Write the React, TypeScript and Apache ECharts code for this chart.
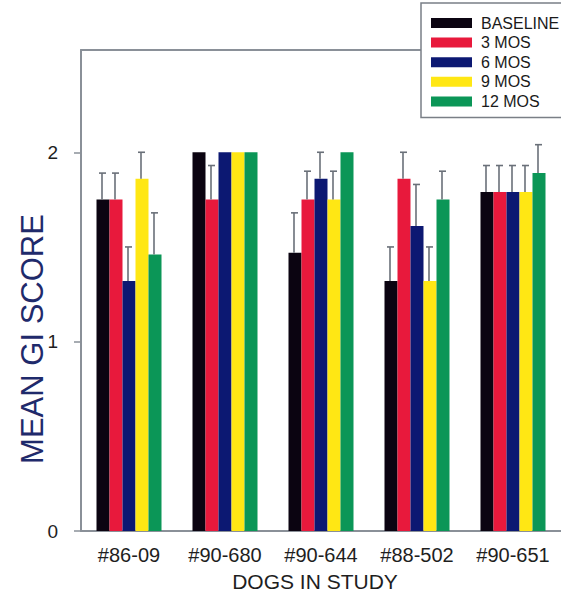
import React, { useEffect, useRef } from "react";
import * as echarts from "echarts";

const categories = ["#86-09", "#90-680", "#90-644", "#88-502", "#90-651"];
const seriesNames = ["BASELINE", "3 MOS", "6 MOS", "9 MOS", "12 MOS"];
const seriesColors = ["#0b0411", "#e8193c", "#0c1872", "#ffe714", "#0b9657"];

const baseline = [1.75, 2.0, 1.47, 1.32, 1.79];
const mos3 = [1.75, 1.75, 1.75, 1.86, 1.79];
const mos6 = [1.32, 2.0, 1.86, 1.61, 1.79];
const mos9 = [1.86, 2.0, 1.75, 1.32, 1.79];
const mos12 = [1.46, 2.0, 2.0, 1.75, 1.89];

// upper end of the error bars (null = no error bar drawn)
const baselineErr = [1.89, null, 1.68, 1.5, 1.93];
const mos3Err = [1.89, 1.93, 1.9, 2.0, 1.93];
const mos6Err = [1.5, null, 2.0, 1.83, 1.93];
const mos9Err = [2.0, null, 1.9, 1.5, 1.93];
const mos12Err = [1.68, null, null, 1.9, 2.04];

const yTicks = [0, 1, 2];

const FONT = "'Liberation Sans', Arial, Helvetica, sans-serif";
const BAR_W = 13;
const AXIS_COLOR = "#8a9098";
const ERR_COLOR = "#6a7079";

export default function App() {
  const ref = useRef<HTMLDivElement>(null);

  useEffect(() => {
    if (!ref.current) return;
    const chart = echarts.init(ref.current, null, { renderer: "svg" });
    const values = [baseline, mos3, mos6, mos9, mos12];
    const errs = [baselineErr, mos3Err, mos6Err, mos9Err, mos12Err];

    const barSeries = values.map((vals, i) => ({
      name: seriesNames[i],
      type: "bar",
      data: vals,
      barWidth: BAR_W,
      barGap: "0%",
      itemStyle: { color: seriesColors[i] },
      z: 2,
    }));

    const errSeries = errs.map((ups, i) => ({
      type: "custom",
      z: 3,
      silent: true,
      data: ups.map((u, k) => [k, values[i][k], u == null ? values[i][k] : u]),
      renderItem: (params: any, api: any) => {
        const cat = api.value(0);
        const v = api.value(1);
        const u = api.value(2);
        if (!(u > v)) return null;
        const base = api.coord([cat, v]);
        const top = api.coord([cat, u]);
        const x = base[0] + (i - 2) * BAR_W - 1;
        const st = { stroke: ERR_COLOR, lineWidth: 1.6 };
        return {
          type: "group",
          children: [
            { type: "line", shape: { x1: x, y1: base[1], x2: x, y2: top[1] }, style: st },
            { type: "line", shape: { x1: x - 3, y1: top[1], x2: x + 4, y2: top[1] }, style: st },
          ],
        };
      },
    }));

    chart.setOption({
      animation: false,
      backgroundColor: "#ffffff",
      textStyle: { fontFamily: FONT },
      grid: { left: 81, top: 50, width: 481, bottom: 64, containLabel: false },
      legend: {
        left: 421,
        top: 3,
        orient: "vertical",
        itemWidth: 41,
        itemHeight: 10,
        itemGap: 3.6,
        padding: [12, 10, 8, 10],
        backgroundColor: "#ffffff",
        borderColor: "#7a7f86",
        borderWidth: 1.5,
        icon: "rect",
        selectedMode: false,
        data: seriesNames,
        textStyle: {
          fontFamily: FONT,
          fontSize: 16,
          color: "#1a1a1a",
          lineHeight: 16,
          padding: [0, 0, 0, 4],
        },
      },
      xAxis: [
        {
          type: "category",
          data: categories,
          position: "bottom",
          axisLine: { lineStyle: { color: AXIS_COLOR, width: 2 } },
          axisTick: { alignWithLabel: true, interval: 0, length: 12, lineStyle: { color: AXIS_COLOR, width: 1.5 } },
          axisLabel: { interval: 0, hideOverlap: false, fontFamily: FONT, fontSize: 20, color: "#1e1e1e", margin: 14 },
          name: "DOGS IN STUDY",
          nameLocation: "middle",
          nameGap: 40,
          nameTextStyle: { fontFamily: FONT, fontSize: 21, color: "#1e1e1e", padding: [0, 12, 0, 0] },
          splitLine: { show: false },
        },
        {
          type: "category",
          data: categories,
          position: "top",
          axisLine: { lineStyle: { color: AXIS_COLOR, width: 2 } },
          axisTick: { show: false },
          axisLabel: { show: false },
          splitLine: { show: false },
        },
      ],
      yAxis: {
        type: "value",
        min: 0,
        max: 2.54,
        interval: 1,
        axisLine: { show: true, lineStyle: { color: AXIS_COLOR, width: 2 } },
        axisTick: { show: true, length: 7, customValues: yTicks, lineStyle: { color: AXIS_COLOR, width: 1.5 } },
        axisLabel: {
          fontFamily: FONT,
          fontSize: 19,
          color: "#1e1e1e",
          margin: 23,
          customValues: yTicks,
        },
        splitLine: { show: false },
      },
      graphic: [
        {
          type: "text",
          x: 32,
          y: 339,
          rotation: Math.PI / 2,
          style: {
            text: "MEAN GI SCORE",
            fontFamily: FONT,
            fontSize: 31,
            fill: "#1f2a6b",
            align: "center",
            verticalAlign: "middle",
          },
        },
      ],
      series: [...barSeries, ...errSeries],
    });

    return () => chart.dispose();
  }, []);

  return (
    <div
      ref={ref}
      style={{ position: "fixed", left: 0, top: 0, width: 561, height: 597 }}
    />
  );
}
